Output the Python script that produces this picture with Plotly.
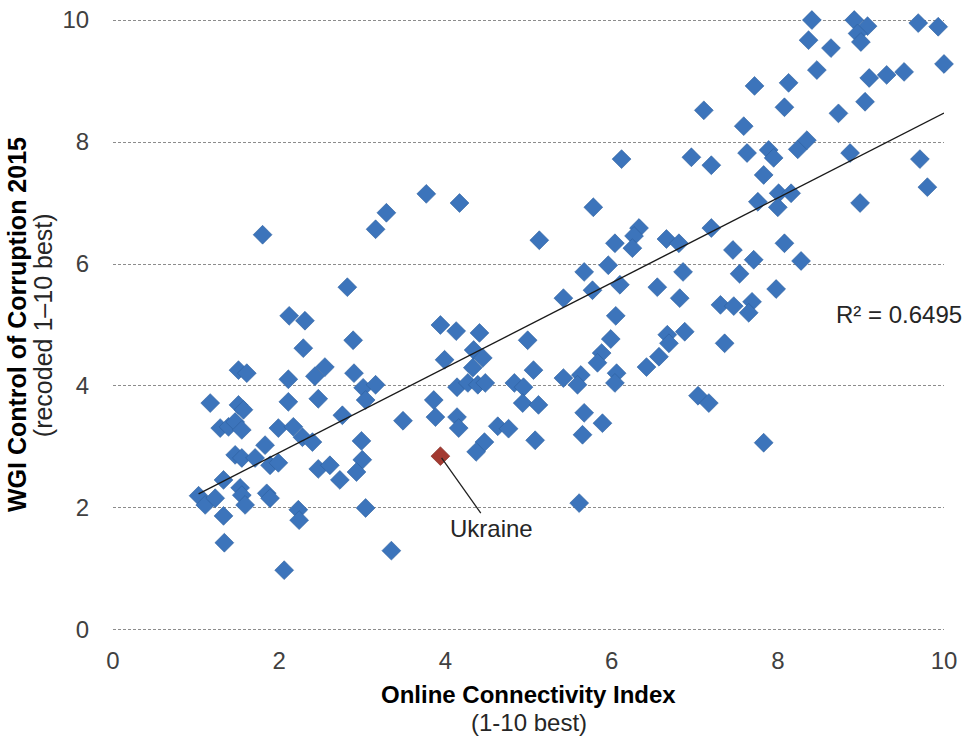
import numpy as np
import plotly.graph_objects as go

# Online Connectivity Index (x) and WGI Control of Corruption (y)
connectivity = [
    1.80, 2.82, 2.12, 2.31, 2.29, 1.51, 1.61, 2.11, 2.43, 2.55,
    1.17, 1.51, 1.57, 2.11, 2.47, 1.29, 1.39, 1.47, 1.55, 1.99,
    2.17, 2.28, 2.40, 2.76, 1.47, 1.55, 1.71, 1.83, 1.89, 1.99,
    2.47, 2.61, 2.73, 1.33, 1.03, 1.11, 1.23, 1.53, 1.55, 1.59,
    1.85, 1.89, 1.33, 2.23, 2.24, 1.34, 2.06,
    3.77, 4.17, 3.29, 3.16, 5.13, 3.94, 4.13, 4.41, 2.89, 4.99,
    4.34, 4.45, 3.99, 4.33, 5.06, 2.90, 3.01, 3.16, 3.04, 4.14,
    4.27, 4.39, 4.48, 4.83, 4.94, 4.93, 5.12, 3.86, 3.88, 3.49,
    4.14, 4.16, 4.63, 4.76, 4.47, 4.37, 5.08, 2.99, 3.00, 2.93,
    3.04, 3.35,
    7.11, 6.12, 6.96, 7.20, 5.78, 6.04, 6.33, 6.27, 6.25, 6.66,
    6.81, 7.20, 5.96, 5.67, 6.86, 6.10, 5.77, 6.55, 5.42, 6.82,
    7.31, 6.05, 5.99, 6.88, 6.67, 6.69, 5.88, 5.83, 6.57, 6.42,
    5.42, 5.63, 5.59, 6.06, 6.04, 7.04, 7.17, 5.67, 5.89, 5.65,
    5.61,
    8.41, 8.92, 9.08, 8.96, 9.00, 9.69, 9.93, 8.37, 8.64, 8.47,
    10.0, 9.10, 9.31, 9.52, 9.05, 8.73, 7.72, 8.13, 8.08, 7.59,
    7.63, 7.89, 7.95, 8.24, 8.35, 8.87, 9.71, 9.80, 7.83, 8.01,
    8.16, 7.76, 8.00, 8.99, 8.08, 7.46, 7.71, 8.28, 7.54, 7.98,
    7.47, 7.69, 7.65, 7.36, 7.83,
]
corruption = [
    6.48, 5.62, 5.15, 5.07, 4.62, 4.26, 4.21, 4.11, 4.16, 4.31,
    3.72, 3.69, 3.61, 3.74, 3.79, 3.31, 3.33, 3.41, 3.28, 3.31,
    3.33, 3.16, 3.08, 3.52, 2.87, 2.82, 2.82, 3.03, 2.70, 2.74,
    2.64, 2.70, 2.46, 2.46, 2.20, 2.05, 2.16, 2.33, 2.21, 2.05,
    2.24, 2.16, 1.87, 1.97, 1.80, 1.43, 0.98,
    7.15, 7.00, 6.84, 6.57, 6.39, 5.00, 4.90, 4.87, 4.75, 4.75,
    4.59, 4.46, 4.43, 4.30, 4.26, 4.21, 3.97, 4.02, 3.77, 3.98,
    4.05, 4.02, 4.05, 4.05, 3.98, 3.72, 3.69, 3.77, 3.49, 3.43,
    3.49, 3.31, 3.34, 3.30, 3.08, 2.92, 3.11, 3.10, 2.79, 2.59,
    2.00, 1.30,
    8.52, 7.72, 7.75, 7.62, 6.93, 6.34, 6.59, 6.46, 6.26, 6.41,
    6.34, 6.59, 5.98, 5.87, 5.87, 5.66, 5.57, 5.62, 5.44, 5.44,
    5.33, 5.15, 4.77, 4.89, 4.84, 4.70, 4.54, 4.38, 4.48, 4.31,
    4.13, 4.18, 4.02, 4.21, 4.05, 3.84, 3.72, 3.56, 3.39, 3.20,
    2.08,
    10.0, 10.0, 9.90, 9.78, 9.64, 9.95, 9.89, 9.67, 9.54, 9.18,
    9.28, 9.05, 9.10, 9.15, 8.66, 8.47, 8.92, 8.97, 8.57, 8.26,
    7.82, 7.87, 7.74, 7.88, 8.03, 7.82, 7.72, 7.26, 7.46, 7.16,
    7.16, 7.02, 6.93, 7.00, 6.34, 6.23, 6.07, 6.05, 5.84, 5.59,
    5.31, 5.38, 5.20, 4.70, 3.07,
]

ukraine_x = [3.94]
ukraine_y = [2.85]
ukraine_label = "Ukraine"

x_ticks = [0, 2, 4, 6, 8, 10]
y_ticks = [0, 2, 4, 6, 8, 10]
r2_label = "R² = 0.6495"

# Linear trendline fitted to all countries
all_x = np.array(connectivity + ukraine_x)
all_y = np.array(corruption + ukraine_y)
slope, intercept = np.polyfit(all_x, all_y, 1)
trend_x = np.array([all_x.min(), all_x.max()])
trend_y = slope * trend_x + intercept

FONT = "Liberation Sans, Arial, sans-serif"

fig = go.Figure()
fig.add_trace(go.Scatter(
    x=connectivity, y=corruption, mode="markers",
    marker=dict(symbol="diamond", size=14.5, color="#3C74BB",
                line=dict(color="#2E5F9E", width=0.6)),
    cliponaxis=False, showlegend=False, hoverinfo="x+y",
))
fig.add_trace(go.Scatter(
    x=trend_x, y=trend_y, mode="lines",
    line=dict(color="#1a1a1a", width=1.4),
    cliponaxis=False, showlegend=False, hoverinfo="skip",
))
fig.add_trace(go.Scatter(
    x=ukraine_x, y=ukraine_y, mode="markers",
    marker=dict(symbol="diamond", size=14.5, color="#A33A31",
                line=dict(color="#7E2A23", width=0.6)),
    cliponaxis=False, showlegend=False, hoverinfo="x+y",
))

fig.add_annotation(
    x=ukraine_x[0], y=ukraine_y[0], text=ukraine_label,
    showarrow=True, arrowhead=0, arrowwidth=1.3, arrowcolor="#222222",
    ax=51, ay=72, standoff=2,
    font=dict(family=FONT, size=24, color="#262626"),
)
fig.add_annotation(
    x=9.46, y=5.18, text=r2_label, showarrow=False,
    font=dict(family=FONT, size=24, color="#262626"),
)

# Axis titles (two lines each, bold + regular)
fig.add_annotation(
    xref="paper", yref="paper", x=0.5, y=-0.1006, yanchor="middle",
    text="<b>Online Connectivity Index</b>", showarrow=False,
    font=dict(family=FONT, size=24, color="#000000"),
)
fig.add_annotation(
    xref="paper", yref="paper", x=0.5, y=-0.1445, yanchor="middle",
    text="(1-10 best)", showarrow=False,
    font=dict(family=FONT, size=24, color="#262626"),
)
fig.add_annotation(
    xref="paper", yref="paper", x=-0.1155, y=0.5, xanchor="center", yanchor="middle",
    text="<b>WGI Control of Corruption 2015</b>", showarrow=False, textangle=-90,
    font=dict(family=FONT, size=25, color="#000000"),
)
fig.add_annotation(
    xref="paper", yref="paper", x=-0.084, y=0.5, xanchor="center", yanchor="middle",
    text="(recoded 1–10 best)", showarrow=False, textangle=-90,
    font=dict(family=FONT, size=25, color="#262626"),
)

fig.update_layout(
    width=967, height=741,
    margin=dict(l=113, r=23, t=17, b=108, pad=0, autoexpand=False),
    paper_bgcolor="white", plot_bgcolor="white",
    font=dict(family=FONT, color="#404040"),
    xaxis=dict(range=[0, 10], tickvals=x_ticks, showgrid=False, zeroline=False,
               showline=False, ticks="outside", ticklen=6, tickcolor="rgba(0,0,0,0)",
               automargin=False,
               tickfont=dict(family=FONT, size=24, color="#404040")),
    yaxis=dict(range=[-0.05, 10.05], tickvals=y_ticks, showgrid=True, gridcolor="#8c8c8c",
               griddash="3px,2px", gridwidth=1, zeroline=False, showline=False,
               ticks="outside", ticklen=18, tickcolor="rgba(0,0,0,0)",
               automargin=False,
               tickfont=dict(family=FONT, size=24, color="#404040")),
)

fig.write_html("out.html", config={"displayModeBar": False},
               post_script="document.body.style.margin='0';")
